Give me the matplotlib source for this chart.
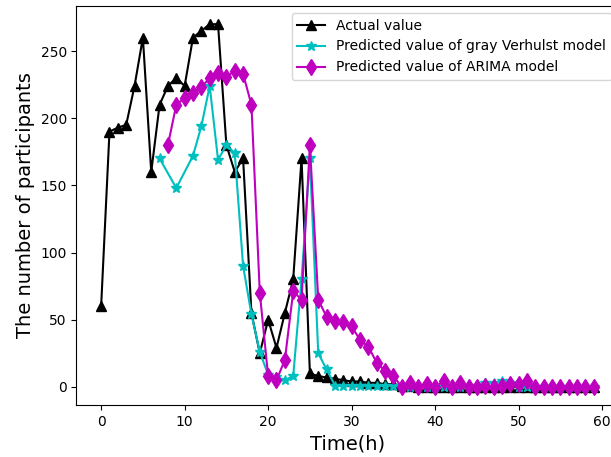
import matplotlib
matplotlib.use('Agg')
import matplotlib.pyplot as plt
import numpy as np


# actual values, hours 0..59
hours = np.arange(60)
actual = [60, 190, 193, 195, 224, 260, 160, 210, 224, 230,
          224, 260, 265, 270, 270, 180, 160, 170, 55, 25,
          50, 29, 55, 80, 170, 10, 8, 7, 6, 5,
          4, 4, 3, 3, 2, 2, 1, 1, 0, 0,
          0, 0, 0, 0, 0, 0, 0, 0, 0, 0,
          0, 0, 0, 0, 0, 0, 0, 0, 0, 0]

# gray Verhulst model
verhulst_x = [7, 9] + list(range(11, 60))
verhulst = [170, 148, 172, 194, 224, 169, 180, 174, 90, 54,
            26, 9, 7, 5, 8, 80, 170, 25, 13, 1,
            1, 1, 1, 1, 1, 1, 1, 0, 0, 0,
            0, 0, 0, 0, 0, 0, 1, 3, 3, 4,
            3, 0, 0, 0, 0, 0, 0, 0, 0, 0, 0]

# ARIMA model
arima_x = list(range(8, 60))
arima = [180, 210, 215, 219, 223, 230, 234, 231, 235, 233,
         210, 70, 8, 5, 20, 71, 65, 180, 65, 52,
         49, 48, 45, 35, 30, 18, 12, 8, 0, 3,
         0, 2, 0, 4, 0, 3, 0, 0, 1, 0,
         1, 2, 2, 4, 0, 0, 0, 0, 0, 0,
         0, 0]

fig = plt.figure(figsize=(6.11, 4.57), dpi=100)
ax = fig.add_axes([0.1252, 0.1138, 0.887, 0.873])

ax.plot(hours, actual, color='k', marker='^', ms=6.5, lw=1.5, label='Actual value')
ax.plot(verhulst_x, verhulst, color='c', marker='*', ms=7, lw=1.5,
        label='Predicted value of gray Verhulst model')
ax.plot(arima_x, arima, color='m', marker='d', ms=8, lw=1.5,
        label='Predicted value of ARIMA model')

ax.set_xlabel('Time(h)', fontsize=14)
ax.set_ylabel('The number of participants', fontsize=14)
ax.legend(loc='upper right', fontsize=10)

fig.savefig('out.png', dpi=100)
